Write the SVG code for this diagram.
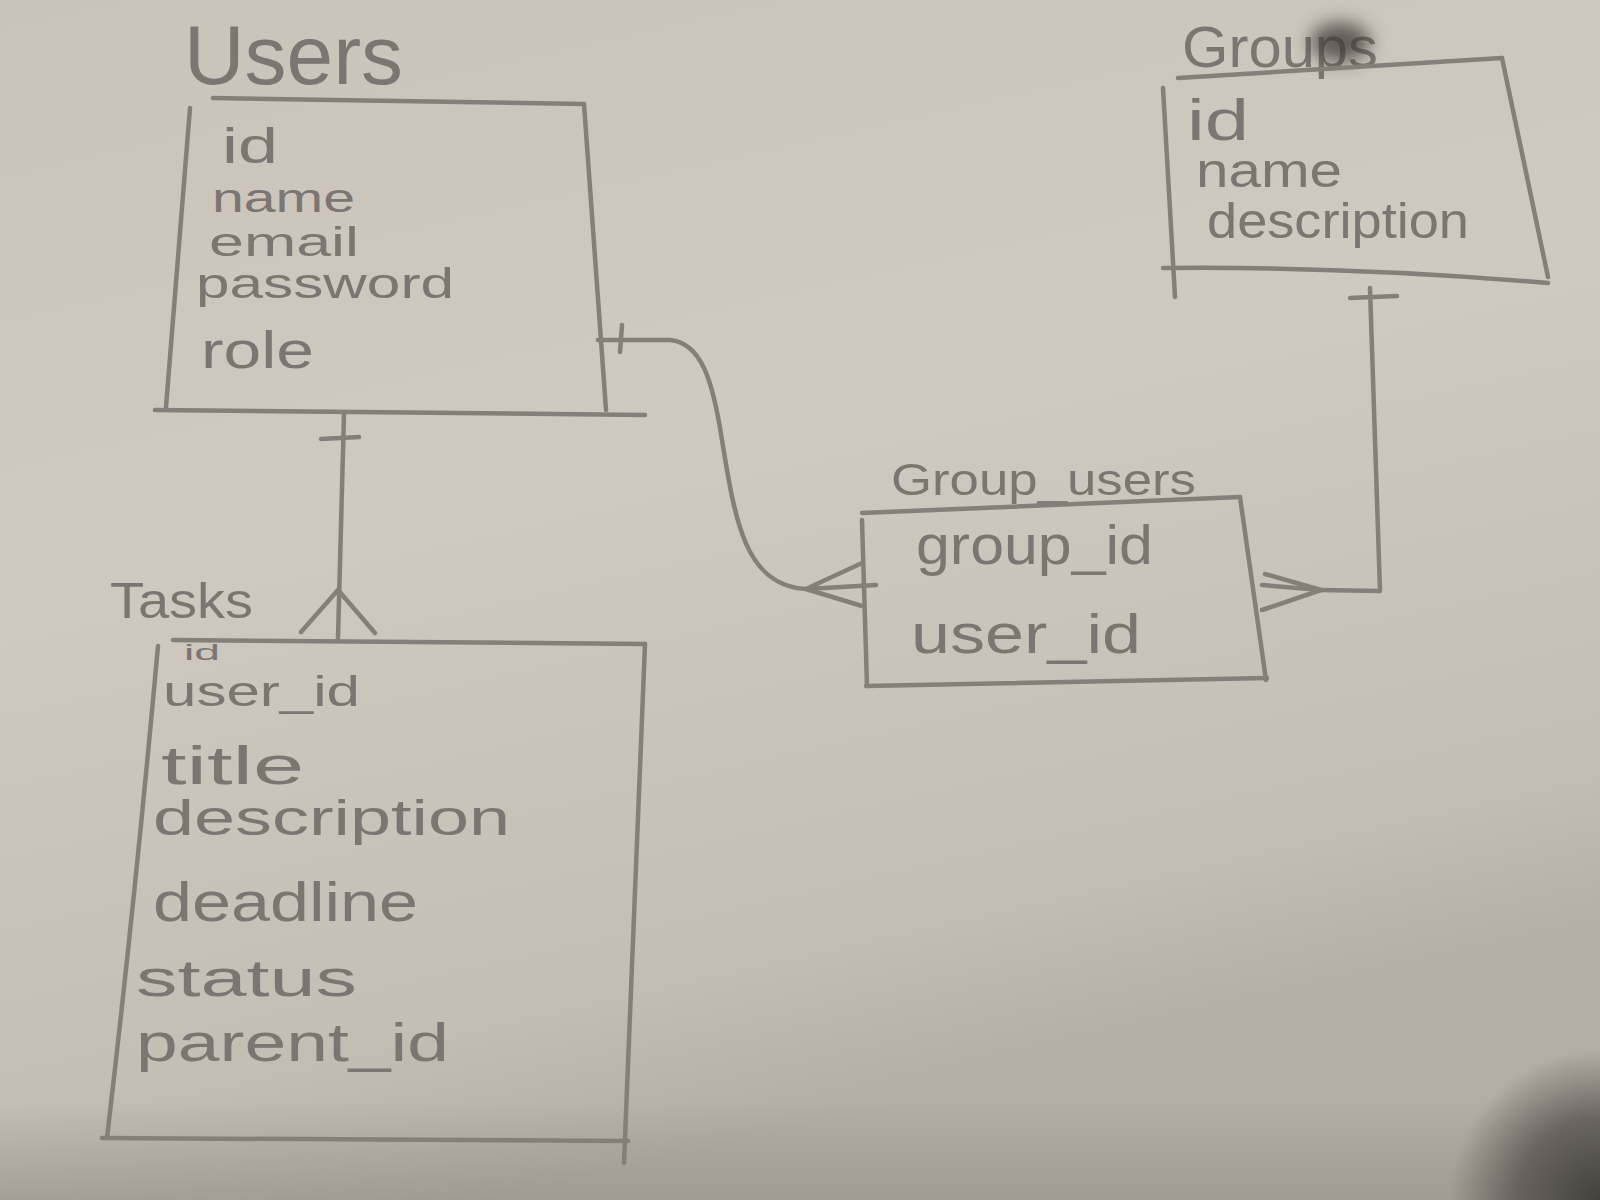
<svg xmlns="http://www.w3.org/2000/svg" width="1600" height="1200" viewBox="0 0 1600 1200">
<defs>
<linearGradient id="paper" x1="0" y1="0" x2="0.3" y2="1">
<stop offset="0" stop-color="#c9c3ba"/>
<stop offset="0.45" stop-color="#cfc9c0"/>
<stop offset="0.85" stop-color="#c4beb5"/>
<stop offset="1" stop-color="#b3ada5"/>
</linearGradient>
<radialGradient id="corner" cx="1600" cy="1200" r="150" gradientUnits="userSpaceOnUse">
<stop offset="0" stop-color="#3f3b37" stop-opacity="0.95"/>
<stop offset="0.55" stop-color="#4d4944" stop-opacity="0.7"/>
<stop offset="1" stop-color="#4d4944" stop-opacity="0"/>
</radialGradient>
<linearGradient id="bottomband" x1="0" y1="0" x2="0" y2="1">
<stop offset="0" stop-color="#8a847c" stop-opacity="0"/>
<stop offset="1" stop-color="#8a847c" stop-opacity="0.45"/>
</linearGradient>
<filter id="blur" x="-50%" y="-50%" width="200%" height="200%"><feGaussianBlur stdDeviation="9"/></filter>
</defs>
<style>
.ln{fill:none;stroke:#857f79;stroke-width:4.5;stroke-linecap:round;stroke-linejoin:round}
.t{font-family:"Liberation Sans","DejaVu Sans",sans-serif;fill:#7b7671}
</style>
<rect width="1600" height="1200" fill="url(#paper)"/>
<rect y="1100" width="1600" height="100" fill="url(#bottomband)"/>
<rect x="1420" y="1040" width="180" height="160" fill="url(#corner)"/>

<g id="node-users">
<text class="t" x="184" y="84" font-size="84" textLength="219" lengthAdjust="spacingAndGlyphs">Users</text>
<path class="ln" d="M213,98 L584,104"/>
<path class="ln" d="M584,104 L606,410"/>
<path class="ln" d="M190,108 L166,407"/>
<path class="ln" d="M155,410 L645,415"/>
<text class="t" x="222" y="163" font-size="50" textLength="56" lengthAdjust="spacingAndGlyphs">id</text>
<text class="t" x="212" y="212" font-size="40" textLength="143" lengthAdjust="spacingAndGlyphs">name</text>
<text class="t" x="209" y="256" font-size="40" textLength="150" lengthAdjust="spacingAndGlyphs">email</text>
<text class="t" x="196" y="298" font-size="42" textLength="258" lengthAdjust="spacingAndGlyphs">password</text>
<text class="t" x="201" y="368" font-size="52" textLength="113" lengthAdjust="spacingAndGlyphs">role</text>
</g>

<g id="node-tasks">
<text class="t" x="110" y="618" font-size="50" textLength="143" lengthAdjust="spacingAndGlyphs">Tasks</text>
<path class="ln" d="M173,640 L645,644"/>
<path class="ln" d="M645,644 L624,1163"/>
<path class="ln" d="M158,646 Q135,900 107,1138"/>
<path class="ln" d="M102,1138 L628,1141"/>
<text class="t" x="184" y="660" font-size="22" textLength="36" lengthAdjust="spacingAndGlyphs">id</text>
<text class="t" x="163" y="706" font-size="42" textLength="197" lengthAdjust="spacingAndGlyphs">user_id</text>
<text class="t" x="161" y="784" font-size="54" textLength="143" lengthAdjust="spacingAndGlyphs">title</text>
<text class="t" x="153" y="835" font-size="50" textLength="357" lengthAdjust="spacingAndGlyphs">description</text>
<text class="t" x="153" y="921" font-size="56" textLength="265" lengthAdjust="spacingAndGlyphs">deadline</text>
<text class="t" x="136" y="996" font-size="52" textLength="221" lengthAdjust="spacingAndGlyphs">status</text>
<text class="t" x="136" y="1061" font-size="54" textLength="313" lengthAdjust="spacingAndGlyphs">parent_id</text>
</g>

<g id="node-groups">
<text class="t" x="1182" y="67" font-size="58" textLength="196" lengthAdjust="spacingAndGlyphs">Groups</text>
<ellipse cx="1340" cy="42" rx="30" ry="20" fill="#3d3936" opacity="0.75" filter="url(#blur)"/>
<path class="ln" d="M1178,78 L1502,58"/>
<path class="ln" d="M1502,58 L1548,277"/>
<path class="ln" d="M1163,88 L1175,297"/>
<path class="ln" d="M1163,268 Q1350,266 1548,283"/>
<text class="t" x="1187" y="140" font-size="58" textLength="62" lengthAdjust="spacingAndGlyphs">id</text>
<text class="t" x="1196" y="187" font-size="48" textLength="146" lengthAdjust="spacingAndGlyphs">name</text>
<text class="t" x="1207" y="238" font-size="50" textLength="262" lengthAdjust="spacingAndGlyphs">description</text>
</g>

<g id="node-group-users">
<text class="t" x="891" y="495" font-size="44" textLength="305" lengthAdjust="spacingAndGlyphs">Group_users</text>
<path class="ln" d="M862,513 L1240,497"/>
<path class="ln" d="M1240,497 L1266,680"/>
<path class="ln" d="M862,520 L867,686"/>
<path class="ln" d="M866,686 L1267,678"/>
<text class="t" x="916" y="564" font-size="56" textLength="237" lengthAdjust="spacingAndGlyphs">group_id</text>
<text class="t" x="911" y="653" font-size="56" textLength="230" lengthAdjust="spacingAndGlyphs">user_id</text>
</g>

<g id="connectors">
<path class="ln" d="M344,414 L338,638"/>
<path class="ln" d="M321,439 L359,437"/>
<path class="ln" d="M301,632 L338,590 L375,633"/>
<path class="ln" d="M598,340 L670,340 C702,343 713,382 722,440 C735,520 745,586 806,589 L876,585"/>
<path class="ln" d="M622,325 L620,352"/>
<path class="ln" d="M862,563 L806,589 L862,606"/>
<path class="ln" d="M1370,288 L1380,591 L1321,590"/>
<path class="ln" d="M1350,298 L1397,296"/>
<path class="ln" d="M1265,574 L1321,590 L1262,610"/>
<path class="ln" d="M1262,585 L1321,590"/>
</g>
</svg>
